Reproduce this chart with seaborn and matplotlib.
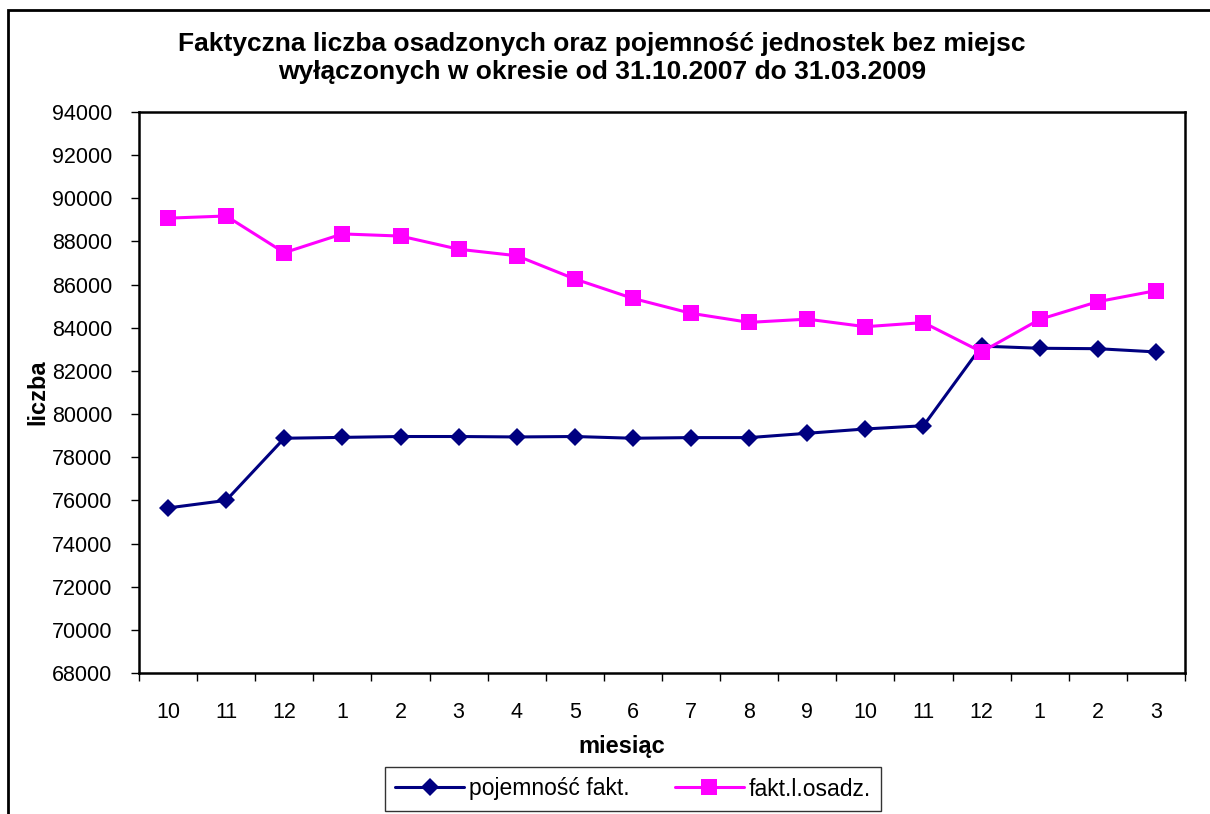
# Faktyczna liczba osadzonych vs pojemnosc jednostek (10.2007 - 03.2009)
import matplotlib
matplotlib.use('Agg')
import matplotlib.pyplot as plt
import seaborn as sns
import numpy as np
import pandas as pd
from matplotlib.patches import Rectangle
from matplotlib.lines import Line2D

# Dane
miesiace = ['10', '11', '12', '1', '2', '3', '4', '5', '6', '7', '8', '9',
            '10', '11', '12', '1', '2', '3']
pojemnosc = [75650, 76000, 78880, 78920, 78960, 78960, 78940, 78960, 78880,
             78910, 78910, 79110, 79310, 79460, 83150, 83050, 83030, 82880]
osadzeni = [89080, 89180, 87480, 88350, 88250, 87640, 87340, 86260, 85360,
            84670, 84250, 84400, 84050, 84240, 82880, 84390, 85210, 85720]

df = pd.DataFrame({'idx': np.arange(len(miesiace)),
                   'pojemnosc': pojemnosc, 'osadzeni': osadzeni})

sns.set_style('white')
plt.rcParams['font.family'] = ['Liberation Sans', 'DejaVu Sans']
plt.rcParams['text.color'] = 'black'
plt.rcParams['xtick.color'] = 'black'
plt.rcParams['ytick.color'] = 'black'
plt.rcParams['axes.labelcolor'] = 'black'

fig = plt.figure(figsize=(12.1, 8.14), dpi=100)
ax = fig.add_axes([139/1210, 1 - 673/814, (1185-139)/1210, (673-112)/814])

sns.lineplot(data=df, x='idx', y='pojemnosc', ax=ax, color='#000080',
             marker='D', markersize=9, markeredgewidth=0, linewidth=2.2,
             label='pojemność fakt.', legend=False)
sns.lineplot(data=df, x='idx', y='osadzeni', ax=ax, color='#FF00FF',
             marker='s', markersize=11, markeredgewidth=0, linewidth=2.2,
             label='fakt.l.osadz.', legend=False)

ax.set_xlim(-0.5, len(miesiace) - 0.5)
ax.set_ylim(68000, 94000)
ax.set_yticks(np.arange(68000, 94001, 2000))
ax.set_xticks(np.arange(len(miesiace)))
ax.set_xticklabels(miesiace)
ax.set_xticks(np.arange(len(miesiace) + 1) - 0.5, minor=True)
ax.tick_params(axis='x', which='major', length=0, pad=21, labelsize=15.5)
ax.tick_params(axis='x', which='minor', length=6, width=1, color='black',
               direction='out', bottom=True)
ax.tick_params(axis='y', length=6, width=1, color='black', direction='out',
               left=True, pad=13, labelsize=15.5)
ax.set_xlabel('')
ax.set_ylabel('')
for s in ax.spines.values():
    s.set_color('black')
    s.set_linewidth(1.8)

fig.text(602/1210, 1 - 44/814, 'Faktyczna liczba osadzonych oraz pojemność jednostek bez miejsc',
         ha='center', va='center', fontsize=19, fontweight='bold')
fig.text(602/1210, 1 - 72/814, 'wyłączonych w okresie od 31.10.2007 do 31.03.2009',
         ha='center', va='center', fontsize=19, fontweight='bold')
fig.text(622/1210, 1 - 746/814, 'miesiąc', ha='center', va='center',
         fontsize=17, fontweight='bold')
fig.text(38/1210, 1 - 392/814, 'liczba', ha='center', va='center',
         fontsize=17, fontweight='bold', rotation=90)

# ramka wokol wykresu (widoczna lewa i gorna krawedz)
fig.patches.append(Rectangle((8/1210, -0.2), 1.5, 1 - 10/814 + 0.2,
                             transform=fig.transFigure, fill=False,
                             edgecolor='black', linewidth=2))

handles = [Line2D([], [], color='#000080', marker='D', markersize=9, lw=2.2,
                  markeredgewidth=0),
           Line2D([], [], color='#FF00FF', marker='s', markersize=11, lw=2.2,
                  markeredgewidth=0)]
leg = fig.legend(handles, ['pojemność fakt.', 'fakt.l.osadz.'], ncol=2,
                 loc='center', bbox_to_anchor=(633/1210, 1 - 789/814),
                 fontsize=16.5, frameon=True, fancybox=False, handlelength=3.0,
                 handletextpad=0.2, columnspacing=2.0, borderpad=0.45)
leg.get_frame().set_edgecolor('black')
leg.get_frame().set_linewidth(1)

fig.savefig('out.png', dpi=100)
